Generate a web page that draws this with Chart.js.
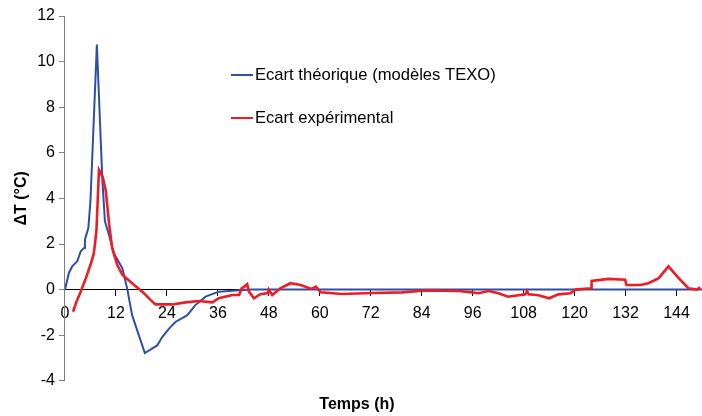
<!DOCTYPE html>
<html>
<head>
<meta charset="utf-8">
<script src="https://cdn.jsdelivr.net/npm/chart.js@4.4.0/dist/chart.umd.min.js"></script>
<style>
  html, body { margin: 0; padding: 0; background: #fff; }
  #wrap { width: 702px; height: 416px; }
</style>
</head>
<body>
<div id="wrap"><canvas id="ecartChart"></canvas></div>
<script>
// Ecart théorique (modèles TEXO)
const theoTimes = [0, 0.9, 1.7, 2.9, 3.7, 4.5, 4.7, 5.5, 6.0, 7.5, 8.8, 9.4, 10.2, 11.5, 13.5, 14.7, 15.8, 18.8, 21.7, 22.9, 24.5, 26.0, 28.8, 30.7, 33.1, 36.2, 41.0, 44.0, 150];
const theoValues = [0, 0.72, 1.02, 1.24, 1.68, 1.83, 2.2, 2.7, 3.9, 10.75, 4.8, 3.0, 2.5, 1.6, 0.94, 0, -1.12, -2.78, -2.45, -2.08, -1.71, -1.42, -1.12, -0.68, -0.31, -0.09, -0.03, 0, 0];

// Ecart expérimental
const expTimes = [1.9, 2.7, 3.7, 4.9, 6.0, 6.8, 7.4, 8.0, 8.9, 9.6, 10.4, 11.1, 12.3, 13.5, 15.8, 18.2, 20.2, 21.3, 25.2, 28.4, 31.5, 34.7, 36.2, 39.4, 41.0, 41.6, 42.0, 42.9, 43.3, 44.5, 46.0, 47.8, 48.0, 48.8, 50.7, 53.1, 55.5, 58.0, 59.1, 60.2, 65.3, 72.3, 79.4, 84.9, 92.7, 95.8, 97.4, 99.8, 102.1, 104.3, 108.4, 108.8, 109.2, 111.5, 114.0, 116.2, 119.0, 120.2, 123.9, 124.0, 128.0, 131.9, 132.2, 135.5, 137.4, 139.8, 142.1, 144.5, 146.8, 148.8, 149.6];
const expValues = [-0.97, -0.53, -0.09, 0.5, 1.09, 1.6, 2.57, 5.25, 4.93, 4.34, 2.86, 1.83, 1.09, 0.65, 0.28, -0.09, -0.46, -0.65, -0.65, -0.56, -0.5, -0.56, -0.38, -0.24, -0.24, 0.06, 0.1, 0.24, -0.09, -0.38, -0.2, -0.15, 0.0, -0.24, 0.06, 0.28, 0.2, 0.03, 0.13, -0.12, -0.19, -0.15, -0.12, -0.04, -0.06, -0.12, -0.16, -0.06, -0.16, -0.31, -0.21, -0.06, -0.21, -0.25, -0.38, -0.21, -0.16, 0, 0.06, 0.38, 0.47, 0.43, 0.2, 0.2, 0.28, 0.5, 1.02, 0.5, 0.06, 0, 0.1];

const xTickStep = 12;
const yTicks = [-4, -2, 0, 2, 4, 6, 8, 10, 12];

const toPoints = (xs, ys) => xs.map((x, i) => ({ x: x, y: ys[i] }));

const FONT = "'Liberation Sans', Arial, sans-serif";

// legend drawn inside the plot, upper middle
const innerLegend = {
  id: "innerLegend",
  afterDraw(chart) {
    const ctx = chart.ctx;
    const rows = [chart.data.datasets[1], chart.data.datasets[0]];
    ctx.save();
    ctx.font = "16.6px " + FONT;
    ctx.textBaseline = "middle";
    rows.forEach((ds, i) => {
      const y = 75 + i * 43;
      ctx.strokeStyle = ds.borderColor;
      ctx.lineWidth = 2;
      ctx.beginPath();
      ctx.moveTo(231, y);
      ctx.lineTo(253, y);
      ctx.stroke();
      ctx.fillStyle = "#000";
      ctx.fillText(ds.label, 255, y);
    });
    ctx.restore();
  }
};

new Chart(document.getElementById("ecartChart"), {
  type: "line",
  data: {
    datasets: [
      {
        label: "Ecart expérimental",
        data: toPoints(expTimes, expValues),
        borderColor: "rgb(238, 28, 36)",
        borderWidth: 2.6,
        pointRadius: 0,
        tension: 0,
        order: 0
      },
      {
        label: "Ecart théorique (modèles TEXO)",
        data: toPoints(theoTimes, theoValues),
        borderColor: "rgb(46, 78, 168)",
        borderWidth: 2,
        pointRadius: 0,
        tension: 0,
        order: 1
      }
    ]
  },
  options: {
    responsive: true,
    maintainAspectRatio: false,
    animation: false,
    layout: { padding: { top: 16, right: 0, left: 12, bottom: 2 } },
    plugins: {
      legend: { display: false },
      tooltip: { enabled: false },
      title: {
        display: true,
        position: "bottom",
        text: "Temps (h)",
        color: "#000",
        font: { family: FONT, size: 16, weight: "bold" },
        padding: { top: 14, bottom: 0 }
      }
    },
    scales: {
      x: {
        type: "linear",
        position: { y: 0 },
        min: 0,
        max: 150,
        border: { color: "#000", width: 1 },
        grid: { drawOnChartArea: false, drawTicks: true, tickLength: 6, color: "#000" },
        ticks: {
          stepSize: xTickStep,
          includeBounds: false,
          padding: 8,
          maxRotation: 0,
          color: "#000",
          font: { family: FONT, size: 16 }
        }
      },
      y: {
        min: yTicks[0],
        max: yTicks[yTicks.length - 1],
        border: { color: "#808080", width: 1 },
        grid: { drawOnChartArea: false, drawTicks: true, tickLength: 6, color: "#808080" },
        ticks: {
          stepSize: 2,
          padding: 4,
          color: "#000",
          font: { family: FONT, size: 16 }
        },
        title: {
          display: true,
          text: "ΔT (°C)",
          color: "#000",
          font: { family: FONT, size: 16, weight: "bold" },
          padding: { top: 0, bottom: 2 }
        }
      }
    }
  },
  plugins: [innerLegend]
});
</script>
</body>
</html>
